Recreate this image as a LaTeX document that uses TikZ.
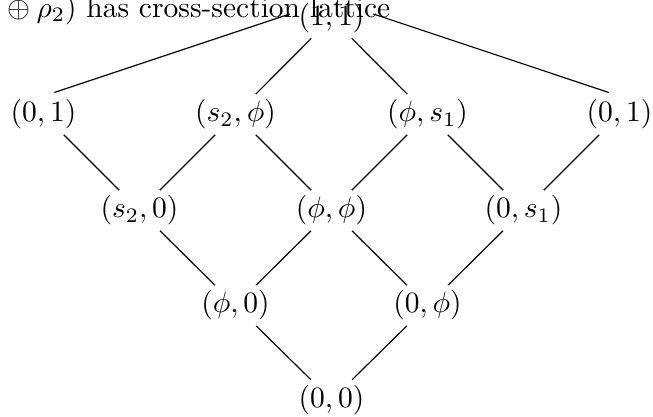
\documentclass[tikz,border=0pt]{standalone}
\usetikzlibrary{calc}
\begin{document}
\begin{tikzpicture}[x=0.339pt,y=-0.339pt,
  lat/.style={inner sep=1.7pt},
  edge/.style={line width=0.4pt}]
\useasboundingbox (0,0) rectangle (653,416);
\node[anchor=base west, inner sep=0pt] (title) at (0,17.3) {${}\oplus\rho_2)$ has cross-section lattice};
% row 0
\node[lat] (t) at (331.5,18) {$(1,1)$};
% row 1
\node[lat] (a) at (43.5,114.5) {$(0,1)$};
\node[lat] (b) at (235.5,114.5) {$(s_2,\phi)$};
\node[lat] (c) at (427.5,114.5) {$(\phi,s_1)$};
\node[lat] (d) at (619.5,114.5) {$(0,1)$};
% row 2
\node[lat] (e) at (139.5,210.5) {$(s_2,0)$};
\node[lat] (f) at (331.5,210.5) {$(\phi,\phi)$};
\node[lat] (g) at (523.5,210.5) {$(0,s_1)$};
% row 3
\node[lat] (h) at (235.5,305.5) {$(\phi,0)$};
\node[lat] (i) at (427.5,305.5) {$(0,\phi)$};
% row 4
\node[lat] (z) at (331.5,400) {$(0,0)$};
% edges
\draw[edge] ($(t.west)+(-3.5,-4)$) -- ($(a.north)+(10.5,-1.6)$);
\draw[edge] ($(t.east)+(3.5,-4)$) -- ($(d.north)+(-10.5,-1.6)$);
\draw[edge] (t) -- (b);
\draw[edge] (t) -- (c);
\draw[edge] (a) -- (e);
\draw[edge] (b) -- (e);
\draw[edge] (b) -- (f);
\draw[edge] (c) -- (f);
\draw[edge] (c) -- (g);
\draw[edge] (d) -- (g);
\draw[edge] (e) -- (h);
\draw[edge] (f) -- (h);
\draw[edge] (f) -- (i);
\draw[edge] (g) -- (i);
\draw[edge] (h) -- (z);
\draw[edge] (i) -- (z);
\end{tikzpicture}
\end{document}
